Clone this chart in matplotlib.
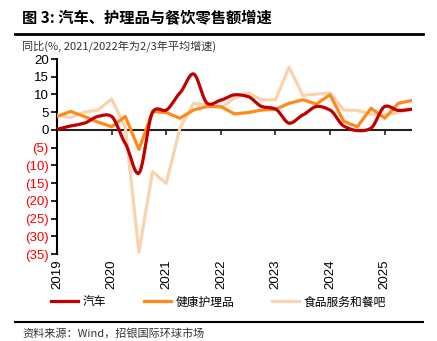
import numpy as np
import matplotlib.pyplot as plt

plt.rcParams['font.family'] = ['Liberation Sans', 'Noto Sans CJK SC', 'DejaVu Sans']

# 季度数据, 2019Q1 - 2025Q3
quarters = np.arange(2019, 2025.75, 0.25)
auto = [0.2, 1.1, 1.9, 3.8, 3.8, -3.8, -12.2, 5.0, 5.6, 10.4, 15.8, 7.5, 8.4,
        9.9, 9.4, 6.6, 5.9, 1.9, 4.2, 6.6, 5.6, 1.1, -0.2, 0.5, 6.6, 5.5, 5.8]
health = [3.8, 5.2, 3.8, 2.2, 0.9, 3.8, -5.5, 5.2, 4.9, 3.3, 5.6, 6.6, 6.6,
          4.5, 4.9, 5.6, 5.8, 7.5, 8.5, 7.3, 9.9, 2.4, 0.9, 6.1, 3.3, 7.5, 8.3]
food = [4.2, 3.5, 5.0, 5.6, 8.7, 0.8, -34.4, -11.8, -15.1, 0.5, 7.5, 7.1, 6.2,
        9.0, 10.4, 8.5, 8.5, 17.7, 9.7, 10.1, 10.4, 5.6, 5.5, 4.4, 4.2, 4.9, 6.1]
years = [2019, 2020, 2021, 2022, 2023, 2024, 2025]
yticks = list(range(-35, 21, 5))

def smooth(x, y, n=12, k=0.35):
    # Hermite 曲线 (切线缩小), 模仿 Excel 平滑线
    x = np.asarray(x, float)
    y = np.asarray(y, float)
    my = np.gradient(y) * 2 * k
    t = np.linspace(0, 1, n, endpoint=False)
    h00 = 2 * t ** 3 - 3 * t ** 2 + 1
    h10 = t ** 3 - 2 * t ** 2 + t
    h01 = -2 * t ** 3 + 3 * t ** 2
    h11 = t ** 3 - t ** 2
    xs, ys = [], []
    for i in range(len(x) - 1):
        xs.extend(x[i] + (x[i + 1] - x[i]) * t)
        ys.extend(h00 * y[i] + h10 * my[i] + h01 * y[i + 1] + h11 * my[i + 1])
    xs.append(x[-1])
    ys.append(y[-1])
    return xs, ys

fig = plt.figure(figsize=(4.37, 3.41), dpi=100)
ax = fig.add_axes([57 / 437, 1 - 254 / 341, 355 / 437, 195 / 341])

sx, sy = smooth(quarters, auto)
ax.plot(quarters, food, color='#FAD2AE', lw=2.3, label='食品服务和餐吧', zorder=3)
ax.plot(quarters, health, color='#FF8A1C', lw=2.3, label='健康护理品', zorder=4)
ax.plot(sx, sy, color='#C00000', lw=2.3, label='汽车', zorder=5)

ax.axhline(0, color='#222222', lw=1.5, zorder=2)
ax.vlines(years, -1.3, 0, color='#222222', lw=1.2, zorder=2)

ax.set_xlim(quarters[0], quarters[-1])
ax.set_ylim(-35, 20)
ax.set_yticks(yticks)
ax.set_yticklabels([str(v) if v >= 0 else f'({-v})' for v in yticks], fontsize=9.5)
for lab, v in zip(ax.get_yticklabels(), yticks):
    lab.set_color('black' if v >= 0 else '#FF0000')
ax.set_xticks(years)
ax.set_xticklabels([str(y) for y in years], rotation=90, fontsize=9.5)
ax.tick_params(axis='x', length=0, pad=4)
ax.tick_params(axis='y', length=4, width=1.2, pad=2)
for s in ['top', 'right', 'bottom']:
    ax.spines[s].set_visible(False)
ax.spines['left'].set_linewidth(1.5)

h, l = ax.get_legend_handles_labels()
order = [2, 1, 0]
fig.legend([h[i] for i in order], [l[i] for i in order], loc='center',
           bbox_to_anchor=(0.5, 1 - 302 / 341), ncol=3, frameon=False,
           prop={'family': 'Noto Sans CJK SC', 'size': 8.5}, handlelength=2.3,
           columnspacing=3.2, handletextpad=0.4)

fig.text(22 / 437, 1 - 18 / 341, '图 3: 汽车、护理品与餐饮零售额增速', fontsize=11,
         fontweight='bold', va='center', family=['Noto Sans CJK SC'])
fig.add_artist(plt.Line2D([15 / 437, 423 / 437], [1 - 34 / 341] * 2, color='black', lw=2))
fig.text(22 / 437, 1 - 46 / 341, '同比(%, 2021/2022年为2/3年平均增速)', fontsize=8,
         va='center', color='#333333', family=['Noto Sans CJK SC', 'DejaVu Sans'])
fig.add_artist(plt.Line2D([15 / 437, 423 / 437], [1 - 322 / 341] * 2, color='black', lw=1.5))
fig.text(22 / 437, 1 - 333 / 341, '资料来源：Wind，招银国际环球市场', fontsize=8,
         va='center', color='#333333', family=['Noto Sans CJK SC', 'DejaVu Sans'])

fig.savefig('out.png', dpi=100)
